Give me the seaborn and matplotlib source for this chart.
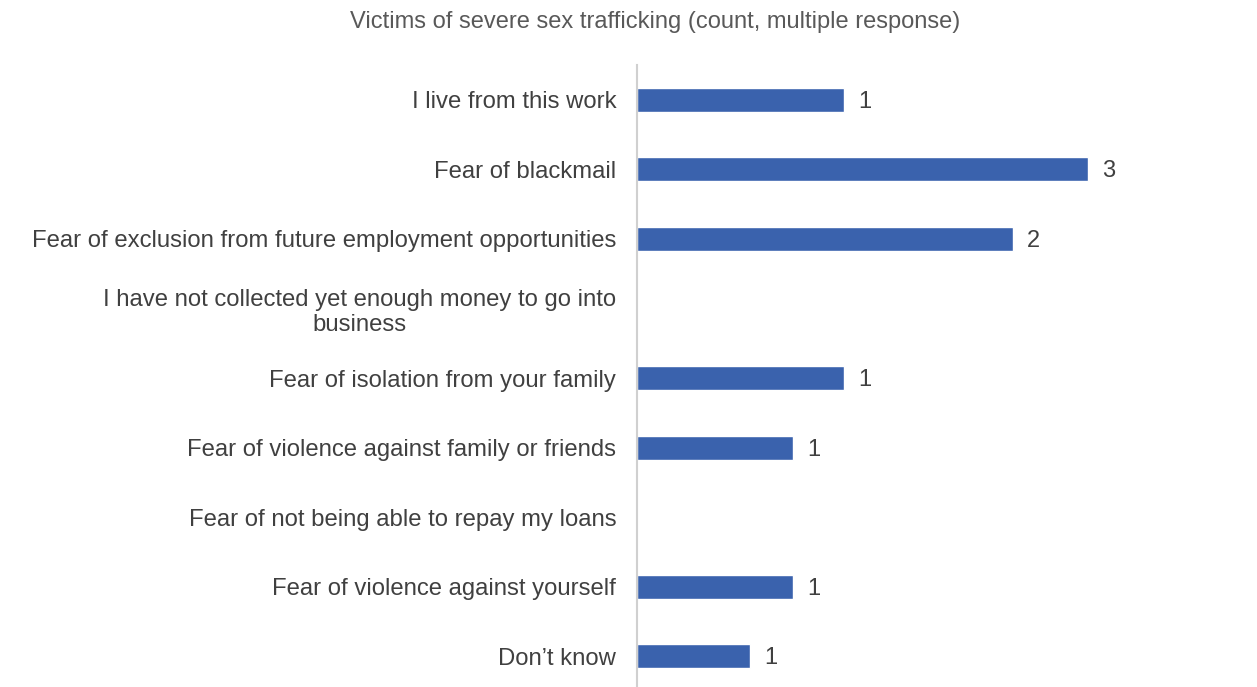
import matplotlib
matplotlib.use("Agg")
import matplotlib.pyplot as plt
import numpy as np
import pandas as pd
import seaborn as sns

categories = [
    "I live from this work",
    "Fear of blackmail",
    "Fear of exclusion from future employment opportunities",
    "I have not collected yet enough money to go into\nbusiness",
    "Fear of isolation from your family",
    "Fear of violence against family or friends",
    "Fear of not being able to repay my loans",
    "Fear of violence against yourself",
    "Don\u2019t know",
]
# bar lengths as drawn in the source (not proportional to the printed counts)
bar_values = [1.38, 3.0, 2.5, 0, 1.38, 1.04, 0, 1.04, 0.75]
count_labels = ["1", "3", "2", "", "1", "1", "", "1", "1"]

title = "Victims of severe sex trafficking (count, multiple response)"

df = pd.DataFrame({"category": categories, "value": bar_values})

sns.set_theme(style="white")
plt.rcParams["font.family"] = ["Liberation Sans", "DejaVu Sans"]

text_col = "#404040"
bar_col = "#3A62AD"

fig = plt.figure(figsize=(12.57, 6.87), dpi=100)
ax = fig.add_axes([0.5068, -0.006, 0.478, 0.9114])

sns.barplot(data=df, y="category", x="value", orient="h", color=bar_col,
            width=0.345, saturation=1, ax=ax)

ax.set_xlim(0, 4)
ax.set_ylim(8.5, -0.5)
ax.set_xlabel("")
ax.set_ylabel("")
ax.set_xticks([])

for side in ["top", "right", "bottom"]:
    ax.spines[side].set_visible(False)
ax.spines["left"].set_color("#D0D0D0")
ax.spines["left"].set_linewidth(1.5)

ax.tick_params(axis="y", length=0, pad=15, labelsize=17.2, labelcolor=text_col)
for lbl in ax.get_yticklabels():
    lbl.set_multialignment("center")
    lbl.set_linespacing(1.15)

# count labels sit just right of each bar
for i, (v, lab) in enumerate(zip(bar_values, count_labels)):
    if lab:
        ax.text(v + 0.095, i + 0.03, lab, va="center", ha="left", fontsize=17, color=text_col)

fig.text(0.521, 0.968, title, ha="center", va="center", fontsize=17, color="#595959")

fig.savefig("out.png", dpi=100)
